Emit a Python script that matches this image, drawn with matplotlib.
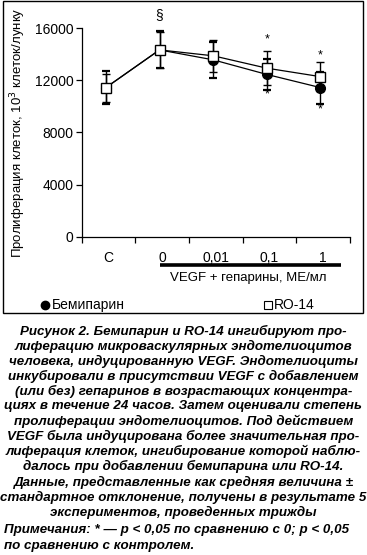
import matplotlib
matplotlib.use('Agg')
import matplotlib.pyplot as plt
from matplotlib.patches import Rectangle
from matplotlib.lines import Line2D

plt.rcParams['font.family'] = ['Liberation Sans', 'DejaVu Sans']

# данные
categories = ['C', '0', '0,01', '0,1', '1']
bemiparin = [11430, 14320, 13560, 12440, 11430]
bemiparin_err = [1270, 1420, 1400, 1160, 1220]
ro14 = [11430, 14320, 13870, 12920, 12270]
ro14_err = [1070, 1400, 1240, 1300, 1110]
yticks = [0, 4000, 8000, 12000, 16000]

caption_lines = [
    'Рисунок 2. Бемипарин и RO-14 ингибируют про-',
    'лиферацию микроваскулярных эндотелиоцитов',
    'человека, индуцированную VEGF. Эндотелиоциты',
    'инкубировали в присутствии VEGF с добавлением',
    '(или без) гепаринов в возрастающих концентра-',
    'циях в течение 24 часов. Затем оценивали степень',
    'пролиферации эндотелиоцитов. Под действием',
    'VEGF была индуцирована более значительная про-',
    'лиферация клеток, ингибирование которой наблю-',
    'далось при добавлении бемипарина или RO-14.',
    'Данные, представленные как средняя величина ±',
    'стандартное отклонение, получены в результате 5',
    'экспериментов, проведенных трижды',
]
note_lines = [
    'Примечания: * — p < 0,05 по сравнению с 0; p < 0,05',
    'по сравнению с контролем.',
]

W, H = 367, 555
fig = plt.figure(figsize=(W / 100, H / 100), dpi=100)
ax = fig.add_axes([81.7 / W, 1 - 236.7 / H, (350 - 81.7) / W, (236.7 - 28) / H])

x = [i + 0.45 for i in range(len(categories))]

ax.errorbar(x, bemiparin, yerr=bemiparin_err, fmt='-o', color='black', mfc='black',
            ms=7, lw=0.9, elinewidth=1.0, capsize=3, capthick=1.6, clip_on=False, zorder=3)
ax.errorbar(x, ro14, yerr=ro14_err, fmt='-s', color='black', mfc='white', mec='black',
            mew=1.0, ms=7.5, lw=0.9, elinewidth=1.0, capsize=3, capthick=1.6, clip_on=False, zorder=4)

ax.set_xlim(0, 5)
ax.set_ylim(0, 16000)
ax.set_yticks(yticks)
ax.set_yticklabels([str(v) for v in yticks], fontsize=10)
ax.set_xticks(range(6))
ax.set_xticklabels([])
ax.set_xticks([i + 0.5 for i in range(5)], minor=True)
ax.set_xticklabels(categories, minor=True, fontsize=10)
ax.tick_params(axis='x', which='major', direction='out', length=4, width=0.9)
ax.tick_params(axis='x', which='minor', length=0, pad=10)
ax.tick_params(axis='y', direction='out', length=4, width=0.9, pad=2)
for s in ['top', 'right']:
    ax.spines[s].set_visible(False)
for s in ['left', 'bottom']:
    ax.spines[s].set_linewidth(0.9)

ax.set_ylabel('Пролиферация клеток, 10$^3$ клеток/лунку', fontsize=9.5)
ax.yaxis.set_label_coords(-0.2, 0.5)

# значимость
ax.text(x[1], 17000, '§', ha='center', va='center', fontsize=10, clip_on=False)
for i, (top, bottom) in zip([3, 4], [(15130, 10930), (13900, 9780)]):
    ax.text(x[i], top, '*', ha='center', va='center', fontsize=9)
    ax.text(x[i], bottom, '*', ha='center', va='center', fontsize=9)

# линия VEGF
trans = ax.get_xaxis_transform()
ax.plot([1.45, 4.83], [-0.135, -0.135], color='black', lw=2.6, transform=trans,
        clip_on=False, solid_capstyle='butt')
ax.text(3.1, -0.2, 'VEGF + гепарины, МЕ/мл', transform=trans, ha='center', va='center',
        fontsize=9.5)

# легенда
fig.add_artist(Line2D([45 / W], [1 - 305 / H], marker='o', color='black', ms=6, ls='none'))
fig.text(52 / W, 1 - 305 / H, 'Бемипарин', fontsize=10, va='center')
fig.add_artist(Line2D([268 / W], [1 - 305 / H], marker='s', mfc='white', mec='black',
                      mew=0.8, ms=5.5, ls='none'))
fig.text(274 / W, 1 - 305 / H, 'RO-14', fontsize=10, va='center')

# рамка
fig.add_artist(Rectangle((3 / W, 1 - 313 / H), 360 / W, 312 / H, fill=False,
                         ec='black', lw=1.0, transform=fig.transFigure))

# подпись
for k, line in enumerate(caption_lines):
    fig.text(0.5, 1 - (331 + k * 15.1) / H, line, ha='center', va='center',
             fontsize=9.6, fontweight='bold', fontstyle='italic')
for k, line in enumerate(note_lines):
    fig.text(4 / W, 1 - (530 + k * 16) / H, line, ha='left', va='center',
             fontsize=9.6, fontweight='bold', fontstyle='italic')

fig.savefig('out.png', dpi=100)
